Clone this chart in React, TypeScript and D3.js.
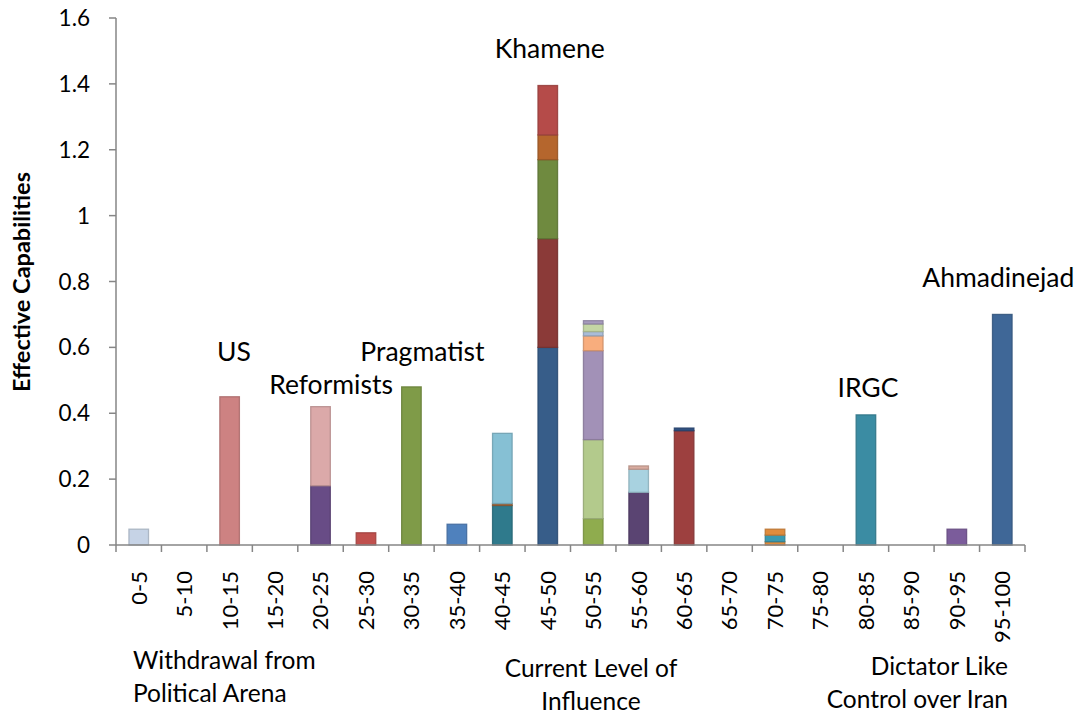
import React from 'react';
import * as d3 from 'd3';

const categories = ['0-5','5-10','10-15','15-20','20-25','25-30','30-35','35-40','40-45','45-50','50-55','55-60','60-65','65-70','70-75','75-80','80-85','85-90','90-95','95-100'];

// stacked segments, bottom to top within each category
const segmentCategory = [
  '0-5',
  '10-15',
  '20-25','20-25',
  '25-30',
  '30-35',
  '35-40',
  '40-45','40-45','40-45',
  '45-50','45-50','45-50','45-50','45-50',
  '50-55','50-55','50-55','50-55','50-55','50-55','50-55',
  '55-60','55-60','55-60',
  '60-65','60-65',
  '70-75','70-75','70-75',
  '80-85',
  '90-95',
  '95-100',
];
const segmentValue = [
  0.048,
  0.45,
  0.18, 0.24,
  0.037,
  0.48,
  0.063,
  0.12, 0.006, 0.213,
  0.6, 0.33, 0.24, 0.075, 0.15,
  0.08, 0.24, 0.27, 0.045, 0.013, 0.023, 0.01,
  0.16, 0.07, 0.01,
  0.347, 0.008,
  0.01, 0.02, 0.018,
  0.395,
  0.048,
  0.70,
];
const segmentFill = [
  '#c6d3e6',
  '#cd8282',
  '#684c86', '#dba9a9',
  '#c0504d',
  '#7f9b48',
  '#4f81bd',
  '#2f7a8c', '#a0663a', '#86c0d4',
  '#375d89', '#8b3a38', '#6f8a3f', '#b5662d', '#b54b49',
  '#8fac4e', '#b3ca8c', '#a291b7', '#f8ad7d', '#a9bcd8', '#c4d6a4', '#a79bbd',
  '#5a4472', '#a8d2e0', '#d9aca0',
  '#9d403f', '#2f5080',
  '#e0893a', '#3a9ab0', '#e08c3d',
  '#3b8ca3',
  '#7b5c9b',
  '#3f6797',
];

const yTickValues = [0, 0.2, 0.4, 0.6, 0.8, 1, 1.2, 1.4, 1.6];

const annotLabels = ['US', 'Reformists', 'Pragmatist', 'Khamene', 'IRGC', 'Ahmadinejad'];
const annotCategory = ['10-15', '20-25', '30-35', '45-50', '80-85', '95-100'];
const annotValue = [0.56, 0.458, 0.56, 1.478, 0.45, 0.784];
const annotDx = [4.4, 10.5, 11, 2, 2, -4];

const W = 1083, H = 715;
const FONT = 'Lato, "Open Sans", sans-serif';
const AXIS = '#868686';

export default function App() {
  const x = d3.scaleBand<string>().domain(categories).range([116, 1025]).padding(0);
  const y = d3.scaleLinear().domain([0, 1.6]).range([545, 18]);
  const bw = x.bandwidth();
  const barW = bw * 0.43;

  const cum = new Map<string, number>();
  const segs = segmentValue.map((v, i) => {
    const c = segmentCategory[i];
    const y0 = cum.get(c) ?? 0;
    const y1 = y0 + v;
    cum.set(c, y1);
    return { c, y0, y1, fill: segmentFill[i] };
  });

  const fmt = (v: number) => String(+v.toFixed(1));

  return (
    <svg width={W} height={H} style={{ position: 'absolute', left: 0, top: 0, background: '#fff' }} fontFamily={FONT}>
      {/* bars */}
      {segs.map((s, i) => {
        const cx = (x(s.c) as number) + bw / 2;
        const top = y(s.y1), bot = y(s.y0);
        return (
          <rect key={i} x={cx - barW / 2} y={top} width={barW} height={Math.max(0, bot - top)}
            fill={s.fill} stroke={d3.color(s.fill)!.darker(0.5).formatHex()} strokeWidth={1.3} strokeOpacity={0.9} />
        );
      })}

      {/* y axis */}
      <line x1={116} x2={116} y1={y(1.6)} y2={y(0)} stroke={AXIS} strokeWidth={1.5} />
      {yTickValues.map((v) => (
        <g key={v}>
          <line x1={109} x2={116} y1={y(v)} y2={y(v)} stroke={AXIS} strokeWidth={1.5} />
          <text x={90} y={y(v)} dy="0.36em" textAnchor="end" fontSize={22.5} fill="#000">{fmt(v)}</text>
        </g>
      ))}

      {/* x axis */}
      <line x1={116} x2={1025} y1={y(0)} y2={y(0)} stroke={AXIS} strokeWidth={1.5} />
      {d3.range(categories.length + 1).map((i) => {
        const xx = i < categories.length ? (x(categories[i]) as number) : (x(categories[i - 1]) as number) + bw;
        return <line key={i} x1={xx} x2={xx} y1={y(0)} y2={y(0) + 7} stroke={AXIS} strokeWidth={1.5} />;
      })}
      {categories.map((c) => (
        <text key={c} transform={`translate(${(x(c) as number) + bw / 2},571) rotate(-90)`} dy="0.36em"
          textAnchor="end" fontSize={22} fill="#000">{c}</text>
      ))}

      {/* y axis title */}
      <text transform="translate(22,282) rotate(-90)" dy="0.36em" textAnchor="middle" fontSize={23.5} fontWeight="bold" fill="#000">
        Effective Capabilities
      </text>

      {/* annotations */}
      {annotLabels.map((t, i) => (
        <text key={t} x={(x(annotCategory[i]) as number) + bw / 2 + annotDx[i]} y={y(annotValue[i])}
          textAnchor="middle" fontSize={26.5} fill="#000">{t}</text>
      ))}

      {/* bottom scale descriptions */}
      <text x={133} y={669} fontSize={24.5} fill="#000">Withdrawal from</text>
      <text x={133} y={702} fontSize={24.5} fill="#000">Political Arena</text>
      <text x={591} y={677} textAnchor="middle" fontSize={24.5} fill="#000">Current Level of</text>
      <text x={591} y={710} textAnchor="middle" fontSize={24.5} fill="#000">Influence</text>
      <text x={1008} y={675} textAnchor="end" fontSize={24.5} fill="#000">Dictator Like</text>
      <text x={1008} y={708} textAnchor="end" fontSize={24.5} fill="#000">Control over Iran</text>
    </svg>
  );
}
